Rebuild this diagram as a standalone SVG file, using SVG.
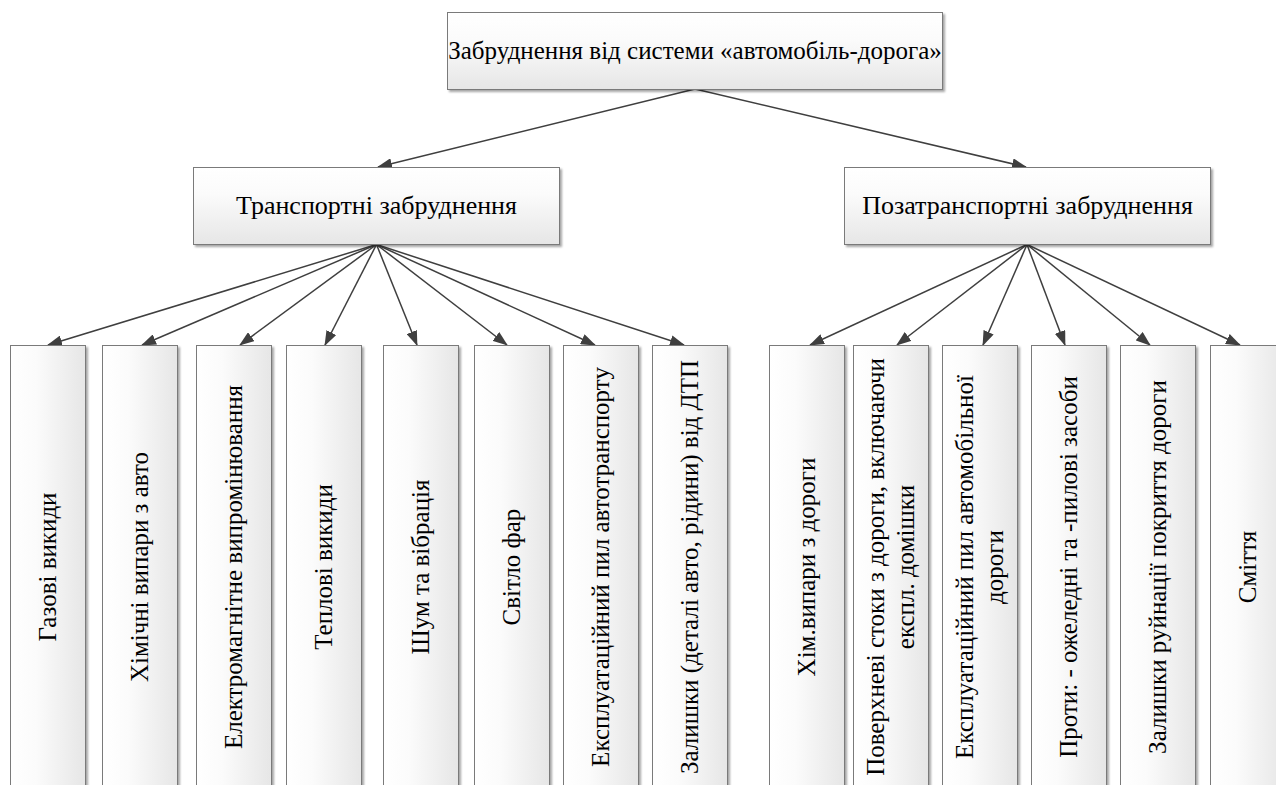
<svg xmlns="http://www.w3.org/2000/svg" width="1276" height="785" viewBox="0 0 1276 785">
<style>
.bx{stroke:#7a7a7a;stroke-width:1;filter:url(#sh)}
.h{fill:url(#gv)}
.v{fill:url(#gh)}
.t{font-family:'Liberation Serif','Times New Roman',serif;font-size:25px;fill:#000;text-anchor:middle}
.m{font-size:26px}
.c{fill:none;stroke:#3f3f3f;stroke-width:1.5;marker-end:url(#arr)}
</style>
<defs>
<linearGradient id="gv" x1="0" y1="0" x2="0" y2="1"><stop offset="0" stop-color="#ffffff"/><stop offset="0.35" stop-color="#fbfbfb"/><stop offset="1" stop-color="#e6e6e6"/></linearGradient>
<linearGradient id="gh" x1="0" y1="0" x2="1" y2="0"><stop offset="0" stop-color="#ffffff"/><stop offset="0.35" stop-color="#fbfbfb"/><stop offset="1" stop-color="#e6e6e6"/></linearGradient>
<filter id="sh" x="-10%" y="-10%" width="130%" height="130%"><feDropShadow dx="2" dy="2" stdDeviation="1" flood-color="#000" flood-opacity="0.35"/></filter>
<marker id="arr" markerWidth="15" markerHeight="11" refX="14" refY="5.5" orient="auto" markerUnits="userSpaceOnUse"><path d="M0,0 L15,5.5 L0,11 z" fill="#3f3f3f"/></marker>
</defs>
<g id="connectors">
<path class="c" d="M695,89 L378,167"/>
<path class="c" d="M695,89 L1026,167"/>
<path class="c" d="M376.5,244.5 L48,345"/>
<path class="c" d="M376.5,244.5 L142,345"/>
<path class="c" d="M376.5,244.5 L240,345"/>
<path class="c" d="M376.5,244.5 L325,345"/>
<path class="c" d="M376.5,244.5 L417,345"/>
<path class="c" d="M376.5,244.5 L507,345"/>
<path class="c" d="M376.5,244.5 L595,345"/>
<path class="c" d="M376.5,244.5 L684,345"/>
<path class="c" d="M1027,244.5 L810,345"/>
<path class="c" d="M1027,244.5 L897,345"/>
<path class="c" d="M1027,244.5 L983,345"/>
<path class="c" d="M1027,244.5 L1065,345"/>
<path class="c" d="M1027,244.5 L1150,345"/>
<path class="c" d="M1027,244.5 L1240,345"/>
</g>
<g id="root"><rect class="bx h" x="447.5" y="12.5" width="495" height="77"/><text class="t" x="695" y="59">Забруднення від системи «автомобіль-дорога»</text></g>
<g id="transport"><rect class="bx h" x="193.5" y="167.5" width="366" height="77"/><text class="t m" x="376.5" y="214">Транспортні забруднення</text></g>
<g id="nontransport"><rect class="bx h" x="844.5" y="167.5" width="366" height="77"/><text class="t m" x="1027.5" y="214">Позатранспортні забруднення</text></g>
<g id="n1"><rect class="bx v" x="10.5" y="345.5" width="75" height="444"/><text class="t" transform="translate(47.5,567) rotate(-90)" y="8">Газові викиди</text></g>
<g id="n2"><rect class="bx v" x="102.5" y="345.5" width="75" height="444"/><text class="t" transform="translate(140,567) rotate(-90)" y="8">Хімічні випари з авто</text></g>
<g id="n3"><rect class="bx v" x="196.5" y="345.5" width="75" height="444"/><text class="t" transform="translate(234,567) rotate(-90)" y="8">Електромагнітне випромінювання</text></g>
<g id="n4"><rect class="bx v" x="286.5" y="345.5" width="75" height="444"/><text class="t" transform="translate(324,567) rotate(-90)" y="8">Теплові викиди</text></g>
<g id="n5"><rect class="bx v" x="383.5" y="345.5" width="75" height="444"/><text class="t" transform="translate(421,567) rotate(-90)" y="8">Шум та вібрація</text></g>
<g id="n6"><rect class="bx v" x="474.5" y="345.5" width="75" height="444"/><text class="t" transform="translate(512,567) rotate(-90)" y="8">Світло фар</text></g>
<g id="n7"><rect class="bx v" x="563.5" y="345.5" width="75" height="444"/><text class="t" transform="translate(601,567) rotate(-90)" y="8">Експлуатаційний пил автотранспорту</text></g>
<g id="n8"><rect class="bx v" x="652.5" y="345.5" width="75" height="444"/><text class="t" transform="translate(690,567) rotate(-90)" y="8">Залишки (деталі авто, рідини) від ДТП</text></g>
<g id="n9"><rect class="bx v" x="769.5" y="345.5" width="75" height="444"/><text class="t" transform="translate(807,567) rotate(-90)" y="8">Хім.випари з дороги</text></g>
<g id="n10"><rect class="bx v" x="853.5" y="345.5" width="75" height="444"/><text class="t" transform="translate(891,567) rotate(-90)"><tspan x="0" y="-7">Поверхневі стоки з дороги, включаючи</tspan><tspan x="0" y="23">експл. домішки</tspan></text></g>
<g id="n11"><rect class="bx v" x="942.5" y="345.5" width="75" height="444"/><text class="t" transform="translate(980,567) rotate(-90)"><tspan x="0" y="-7">Експлуатаційний пил автомобільної</tspan><tspan x="0" y="23">дороги</tspan></text></g>
<g id="n12"><rect class="bx v" x="1031.5" y="345.5" width="75" height="444"/><text class="t" transform="translate(1069,567) rotate(-90)" y="8">Проти: - ожеледні та -пилові засоби</text></g>
<g id="n13"><rect class="bx v" x="1120.5" y="345.5" width="75" height="444"/><text class="t" transform="translate(1158,567) rotate(-90)" y="8">Залишки руйнації покриття дороги</text></g>
<g id="n14"><rect class="bx v" x="1210.5" y="345.5" width="75" height="444"/><text class="t" transform="translate(1248,567) rotate(-90)" y="8">Сміття</text></g>
</svg>
